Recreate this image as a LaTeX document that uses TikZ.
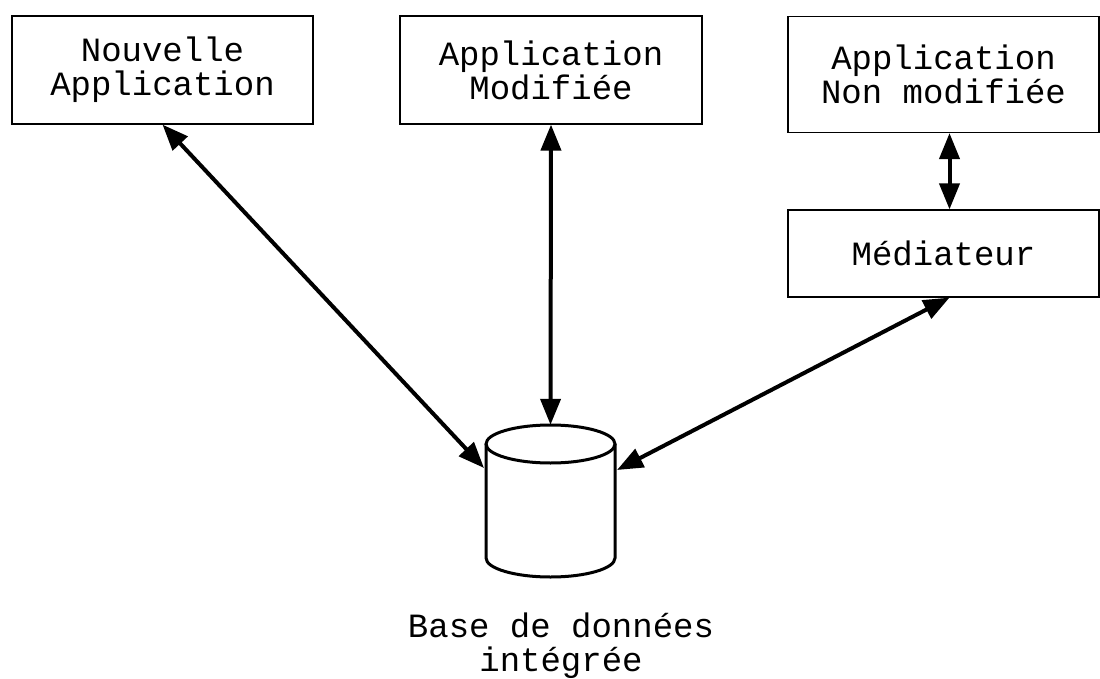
\documentclass[tikz,border=0pt]{standalone}
\usepackage{fontspec}
\setmonofont{Liberation Mono}
\usetikzlibrary{arrows.meta}
\tikzset{
    appbox/.style={draw, line width=1.2pt, align=center, inner sep=0pt},
    link/.style={{Triangle[length=26pt,width=20pt]}-{Triangle[length=26pt,width=20pt]}, line width=4pt}
}
\begin{document}
\begin{tikzpicture}[x=1pt,y=-1pt,font=\ttfamily\fontsize{34}{34}\selectfont]
        \useasboundingbox (0,0) rectangle (1100,679);
        \node[appbox, minimum width=301, minimum height=108] (nouv) at (162.5,70) {Nouvelle\\Application};
        \node[appbox, minimum width=302, minimum height=108] (modif) at (551,70) {Application\\Modifiée};
        \node[appbox, minimum width=311, minimum height=116] (nonmod) at (943.5,74.5) {Application\\Non modifiée};
        \node[appbox, minimum width=311, minimum height=87] (med) at (943.5,253.5) {Médiateur};
        % base de donnees (cylindre)
        \node[minimum width=129, minimum height=152, inner sep=0pt] (bd) at (550.5,501) {};
        \draw[line width=3pt] (486,444) -- (486,558) arc[start angle=180, end angle=0, x radius=64.5, y radius=19] -- (615,444);
        \draw[line width=3pt] (550.5,444) ellipse[x radius=64.5, y radius=19];
        \node[align=center] (bdlabel) at (561,646) {Base de données\\intégrée};
        \coordinate (bdL) at (484,468);
        \coordinate (bdR) at (617,470);
        \draw[link] (nouv.south) -- (bdL);
        \draw[link] (modif.south) -- (bd.north);
        \draw[link] ([xshift=6pt]med.south) -- (bdR);
        \draw[link] ([xshift=6pt]nonmod.south) -- ([xshift=6pt]med.north);
    \end{tikzpicture}
\end{document}
